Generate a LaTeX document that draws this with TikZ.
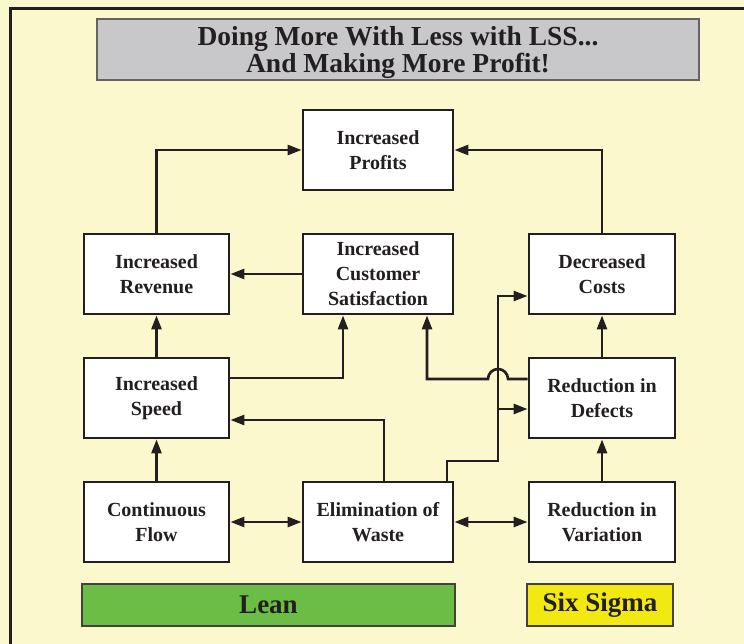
\documentclass[tikz,border=0pt]{standalone}
\usepackage{fontspec}
\setmainfont{Liberation Serif}
\usetikzlibrary{arrows.meta}
\definecolor{bg}{RGB}{251,248,206}
\definecolor{ink}{RGB}{35,31,32}
\definecolor{titlegray}{RGB}{200,200,202}
\definecolor{leangreen}{RGB}{107,189,69}
\definecolor{sigyellow}{RGB}{243,233,18}
\tikzset{
  box/.style={draw=ink, line width=2.8pt, fill=white, align=center, text=ink,
    font=\fontsize{20}{25}\selectfont\bfseries, inner sep=0pt},
  boxL/.style={box, minimum width=145pt, minimum height=80pt},
  boxM/.style={box, minimum width=150pt, minimum height=80pt},
  boxR/.style={box, minimum width=146pt, minimum height=80pt},
  conn/.style={draw=ink, line width=2.6pt},
  arr/.style={conn, -{Triangle[length=14pt,width=10pt]}},
  arrtwo/.style={conn, {Triangle[length=14pt,width=10pt]}-{Triangle[length=14pt,width=10pt]}},
  band/.style={draw=ink!85, line width=1.2pt, text=ink, inner sep=0pt,
    font=\fontsize{27}{30}\selectfont\bfseries}
}
\begin{document}
\begin{tikzpicture}[x=1pt,y=-1pt]
\useasboundingbox (0,0) rectangle (744,644);
\fill[bg] (0,0) rectangle (744,644);
\draw[ink, line width=3pt] (10,8.5) rectangle (770,670);

% title
\node[draw=ink!70, line width=1.2pt, fill=titlegray, minimum width=602pt, minimum height=61pt,
  inner sep=0pt, text=ink, font=\fontsize{27.5}{25}\selectfont\bfseries]
  (title) at (398,49.5) {\raisebox{-4pt}[\height][\depth]{\begin{tabular}{@{}c@{}}Doing More With Less with LSS...\\And Making More Profit!\end{tabular}}};

% nodes
\node[boxM] (prof) at (378,150) {Increased\\Profits};
\node[boxL] (rev) at (156.5,274) {Increased\\Revenue};
\node[boxM] (sat) at (378,274) {Increased\\Customer\\Satisfaction};
\node[boxR] (cost) at (602,274) {Decreased\\Costs};
\node[boxL] (speed) at (156.5,398) {Increased\\Speed};
\node[boxR] (def) at (602,398) {Reduction in\\Defects};
\node[boxL] (flow) at (156.5,522) {Continuous\\Flow};
\node[boxM] (waste) at (378,522) {Elimination of\\Waste};
\node[boxR] (var) at (602,522) {Reduction in\\Variation};

% bands
\node[band, fill=leangreen, minimum width=373pt, minimum height=42pt] (lean) at (268.5,605) {Lean};
\node[band, fill=sigyellow, minimum width=146pt, minimum height=42pt] (six) at (600,605) {Six Sigma};

% helper coordinates
\coordinate (s1) at (343,378);
\coordinate (w1) at (384,420);
\coordinate (d1) at (427,379);
\coordinate (e1) at (447,461);
\coordinate (e2) at (498,296);
\coordinate (e3) at (498,409);

% connectors
\draw[arr] (rev.north) |- (prof.west);
\draw[arr] (cost.north) |- (prof.east);
\draw[arr] (sat.west) -- (rev.east);
\draw[arr] (speed.north) -- (rev.south);
\draw[arr] (speed.east |- s1) -| (sat.south -| s1);
\draw[arr] (waste.north -| w1) |- (speed.east |- w1);
\draw[arr] (flow.north) -- (speed.south);
\draw[arrtwo] (flow.east) -- (waste.west);
\draw[arrtwo] (waste.east) -- (var.west);
\draw[arr] (var.north) -- (def.south);
\draw[arr] (def.north) -- (cost.south);
\draw[arr] (def.west |- d1) -- (508,379) arc[start angle=0, end angle=-180, radius=10] -| (sat.south -| d1);
\draw[arr] (waste.north -| e1) |- (e2 |- e1) -- (e2) -- (cost.west |- e2);
\draw[arr] (e3) -- (def.west |- e3);
\end{tikzpicture}
\end{document}
